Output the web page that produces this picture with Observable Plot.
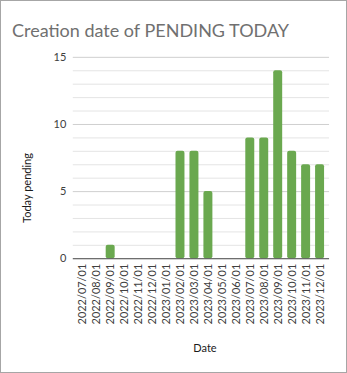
<!DOCTYPE html>
<html><head><meta charset="utf-8">
<script src="https://cdn.jsdelivr.net/npm/d3@7"></script>
<script src="https://cdn.jsdelivr.net/npm/@observablehq/plot@0.6"></script>
<style>
html,body{margin:0;padding:0;background:#fff;}
#box{position:relative;width:347px;height:373px;box-sizing:border-box;border:1px solid #a6a6a6;background:#fff;font-family:Lato,sans-serif;overflow:hidden;}
#title{position:absolute;left:11px;top:18px;font-size:18px;color:#707070;white-space:nowrap;}
#ylab{position:absolute;left:25px;top:187px;font-size:11px;color:#1a1a1a;white-space:nowrap;transform:translate(-50%,-50%) rotate(-90deg);}
#xlab{position:absolute;left:204px;top:346px;font-size:11px;color:#1a1a1a;transform:translate(-50%,-50%);}
#chart{position:absolute;left:-1px;top:-1px;}
</style></head>
<body><div id="box"><div id="chart"></div><div id="title">Creation date of PENDING TODAY</div><div id="ylab">Today pending</div><div id="xlab">Date</div></div>
<script>
const dates = ["2022/07/01","2022/08/01","2022/09/01","2022/10/01","2022/11/01","2022/12/01","2023/01/01","2023/02/01","2023/03/01","2023/04/01","2023/05/01","2023/06/01","2023/07/01","2023/08/01","2023/09/01","2023/10/01","2023/11/01","2023/12/01"];
const pending = [0,0,1,0,0,0,0,8,8,5,0,0,9,9,14,8,7,7];
const yTicks = [0,5,10,15];
const minorTicks = [1,2,3,4,6,7,8,9,11,12,13,14];

const data = dates.map((d,i)=>({date:d, value:pending[i]}));

const chart = Plot.plot({
  width: 347, height: 373,
  marginTop: 57, marginBottom: 114, marginLeft: 73, marginRight: 17,
  style: {fontFamily: "Lato, sans-serif", fontSize: "11px", color: "#404040", background: "transparent"},
  x: {domain: dates, paddingInner: 0.34, paddingOuter: 0.22},
  y: {domain: [0,15]},
  marks: [
    Plot.ruleY(minorTicks, {stroke: "#e4e4e4", strokeWidth: 1}),
    Plot.ruleY(yTicks.filter(d=>d>0), {stroke: "#cfcfcf", strokeWidth: 1}),
    Plot.barY(data, {x: "date", y: "value", fill: "#6aa84f", rx: 2}),
    Plot.ruleY([0], {stroke: "#404040", strokeWidth: 1}),
    Plot.axisX({tickRotate: -90, tickSize: 0, tickPadding: 5, label: null, fontSize: 11}),
    Plot.axisY({ticks: yTicks, tickSize: 0, tickPadding: 7, label: null, fontSize: 11})
  ]
});
document.getElementById("chart").appendChild(chart);
</script></body></html>
